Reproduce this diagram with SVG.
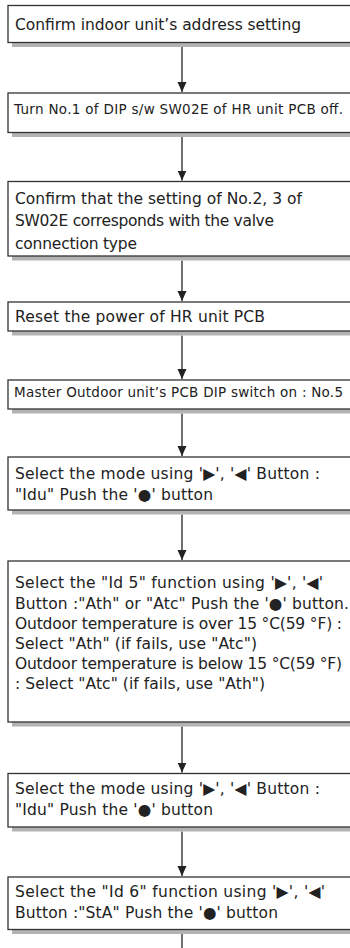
<svg xmlns="http://www.w3.org/2000/svg" width="350" height="948" viewBox="0 0 350 948">
<defs>
<style>
.box{fill:#fff;stroke:#333;stroke-width:1.3}
.sh{fill:#b3b3b3}
.t{font-family:"DejaVu Sans","Liberation Sans",sans-serif;font-size:15.5px;fill:#222}
.s{font-family:"DejaVu Sans","Liberation Sans",sans-serif;font-size:13.5px;fill:#222}
.ln{stroke:#222;stroke-width:1.3;fill:none}
</style>
<marker id="ah" viewBox="0 0 10 10" refX="10" refY="5" markerWidth="10" markerHeight="10" markerUnits="userSpaceOnUse" orient="auto">
<path d="M0,0.5 L10,5 L0,9.5 Z" fill="#222"/>
</marker>
</defs>
<g id="connectors">
<line class="ln" x1="182" y1="47" x2="182" y2="92" marker-end="url(#ah)"/>
<line class="ln" x1="182" y1="137" x2="182" y2="180.5" marker-end="url(#ah)"/>
<line class="ln" x1="182" y1="260.5" x2="182" y2="301" marker-end="url(#ah)"/>
<line class="ln" x1="182" y1="335.5" x2="182" y2="379" marker-end="url(#ah)"/>
<line class="ln" x1="182" y1="413.5" x2="182" y2="456" marker-end="url(#ah)"/>
<line class="ln" x1="182" y1="514.5" x2="182" y2="560" marker-end="url(#ah)"/>
<line class="ln" x1="182" y1="726.5" x2="182" y2="772.5" marker-end="url(#ah)"/>
<line class="ln" x1="182" y1="831.5" x2="182" y2="876" marker-end="url(#ah)"/>
<line class="ln" x1="182" y1="934" x2="182" y2="948"/>
</g>
<g id="n1">
<rect class="sh" x="12" y="42.5" width="345" height="4.5"/>
<rect class="box" x="8" y="5.5" width="360" height="37"/>
<text class="t" x="15" y="29.5" textLength="286">Confirm indoor unit’s address setting</text>
</g>
<g id="n2">
<rect class="sh" x="12" y="132.5" width="345" height="4.5"/>
<rect class="box" x="8" y="93" width="360" height="39.5"/>
<text class="s" x="14" y="114" textLength="329">Turn No.1 of DIP s/w SW02E of HR unit PCB off.</text>
</g>
<g id="n3">
<rect class="sh" x="12" y="256" width="345" height="4.5"/>
<rect class="box" x="8" y="181.5" width="360" height="74.5"/>
<text class="t" x="15" y="204" textLength="287">Confirm that the setting of No.2, 3 of</text>
<text class="t" x="15" y="226" textLength="259">SW02E corresponds with the valve</text>
<text class="t" x="15" y="248.5" textLength="122">connection type</text>
</g>
<g id="n4">
<rect class="sh" x="12" y="331" width="345" height="4.5"/>
<rect class="box" x="8" y="302" width="360" height="29"/>
<text class="t" x="15" y="322" textLength="250">Reset the power of HR unit PCB</text>
</g>
<g id="n5">
<rect class="sh" x="12" y="409" width="345" height="4.5"/>
<rect class="box" x="8" y="380" width="360" height="29"/>
<text class="s" x="14" y="397" textLength="329">Master Outdoor unit’s PCB DIP switch on : No.5</text>
</g>
<g id="n6">
<rect class="sh" x="12" y="510" width="345" height="4.5"/>
<rect class="box" x="8" y="457" width="360" height="53"/>
<text class="t" x="15" y="479" textLength="305">Select the mode using '▶', '◀' Button :</text>
<text class="t" x="15" y="499.5" textLength="198">"Idu" Push the '●' button</text>
</g>
<g id="n7">
<rect class="sh" x="12" y="722" width="345" height="4.5"/>
<rect class="box" x="8" y="561" width="360" height="161"/>
<text class="t" x="15" y="588" textLength="308">Select the "Id 5" function using '▶', '◀'</text>
<text class="t" x="15" y="608.5" textLength="334">Button :"Ath" or "Atc" Push the '●' button.</text>
<text class="t" x="15" y="628.5" textLength="327">Outdoor temperature is over 15 °C(59 °F) :</text>
<text class="t" x="15" y="648.5" textLength="242">Select "Ath" (if fails, use "Atc")</text>
<text class="t" x="15" y="668.5" textLength="327">Outdoor temperature is below 15 °C(59 °F)</text>
<text class="t" x="15" y="689" textLength="250">: Select "Atc" (if fails, use "Ath")</text>
</g>
<g id="n8">
<rect class="sh" x="12" y="827" width="345" height="4.5"/>
<rect class="box" x="8" y="773.5" width="360" height="53.5"/>
<text class="t" x="15" y="794" textLength="305">Select the mode using '▶', '◀' Button :</text>
<text class="t" x="15" y="814.5" textLength="198">"Idu" Push the '●' button</text>
</g>
<g id="n9">
<rect class="sh" x="12" y="929.5" width="345" height="4.5"/>
<rect class="box" x="8" y="877" width="360" height="52.5"/>
<text class="t" x="15" y="897" textLength="310">Select the "Id 6" function using '▶', '◀'</text>
<text class="t" x="15" y="917.5" textLength="263">Button :"StA" Push the '●' button</text>
</g>
</svg>
